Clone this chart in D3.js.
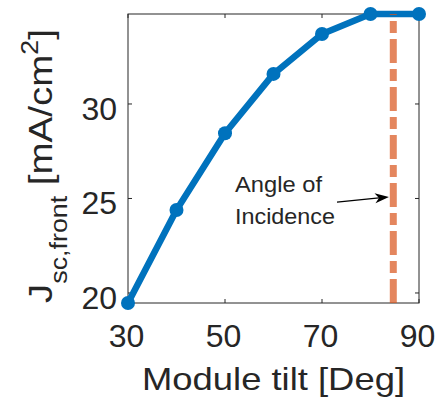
<!DOCTYPE html>
<html>
<head>
<meta charset="utf-8">
<script src="https://cdn.jsdelivr.net/npm/d3@7"></script>
<style>
  body { margin: 0; background: #fff; }
  text { font-family: "Liberation Sans", Arial, sans-serif; fill: #262626; }
</style>
</head>
<body>
<div id="chart"></div>
<script>
// Module tilt (deg) vs front short-circuit current density
var tilt = [30, 40, 50, 60, 70, 80, 90];
var jsc = [19.47, 24.39, 28.45, 31.59, 33.70, 34.76, 34.76];
var xTicks = [30, 50, 70, 90];
var yTicks = [20, 25, 30];
var incidenceAngle = 84.7;
// annotation arrow, [tilt, jsc] of tail and head
var arrowTail = [73.1, 24.81];
var arrowHead = [83.8, 25.08];
var noteLines = ['Angle of', 'Incidence'];

var width = 438, height = 403;
var plot = { left: 128, right: 419, top: 14, bottom: 303 };

var svg = d3.select('#chart').append('svg')
    .attr('width', width)
    .attr('height', height);

var x = d3.scaleLinear().domain([30, 90]).range([plot.left, plot.right]);
var y = d3.scaleLinear().domain(d3.extent(jsc)).range([plot.bottom, plot.top]);

// axes box - MATLAB style, ticks pointing inward
var axisColor = '#262626';
var tickLen = 4;
svg.append('rect')
    .attr('x', plot.left).attr('y', plot.top)
    .attr('width', plot.right - plot.left).attr('height', plot.bottom - plot.top)
    .attr('fill', 'none').attr('stroke', axisColor).attr('stroke-width', 1);

xTicks.forEach(function(t) {
    svg.append('line').attr('x1', x(t)).attr('x2', x(t))
        .attr('y1', plot.bottom).attr('y2', plot.bottom - tickLen)
        .attr('stroke', axisColor);
    svg.append('line').attr('x1', x(t)).attr('x2', x(t))
        .attr('y1', plot.top).attr('y2', plot.top + tickLen)
        .attr('stroke', axisColor);
    svg.append('text')
        .attr('x', x(t) - 1.5).attr('y', 347)
        .attr('text-anchor', 'middle')
        .style('font-size', '32px')
        .text(t);
});

yTicks.forEach(function(t) {
    svg.append('line').attr('x1', plot.left).attr('x2', plot.left + tickLen)
        .attr('y1', y(t)).attr('y2', y(t))
        .attr('stroke', axisColor);
    svg.append('line').attr('x1', plot.right).attr('x2', plot.right - tickLen)
        .attr('y1', y(t)).attr('y2', y(t))
        .attr('stroke', axisColor);
    svg.append('text')
        .attr('x', 117).attr('y', y(t) + 16)
        .attr('text-anchor', 'end')
        .style('font-size', '32px')
        .text(t);
});

// axis titles (glyphs stretched a bit, the original font runs wider than Arial)
svg.append('text')
    .attr('x', 142).attr('y', 390)
    .attr('textLength', 263)
    .attr('lengthAdjust', 'spacingAndGlyphs')
    .style('font-size', '30.5px')
    .text('Module tilt [Deg]');

var ylab = svg.append('text')
    .attr('transform', 'translate(52,303) rotate(-90)')
    .style('font-size', '33px');
ylab.append('tspan').text('J');
ylab.append('tspan').attr('dy', 15).style('font-size', '23px').text('sc,front');
ylab.append('tspan').attr('dy', -15).text(' [mA/cm');
ylab.append('tspan').attr('dy', -14).style('font-size', '23px').text('2');
ylab.append('tspan').attr('dy', 14).text(']');
var ylabLen = ylab.node().getComputedTextLength();
ylab.attr('transform', 'translate(52,303) rotate(-90) scale(' + (274 / ylabLen) + ',1)');

// data line + markers
var line = d3.line()
    .x(function(d, i) { return x(tilt[i]); })
    .y(function(d) { return y(d); });

svg.append('path')
    .datum(jsc)
    .attr('d', line)
    .attr('fill', 'none')
    .attr('stroke', '#0072BD')
    .attr('stroke-width', 6.5)
    .attr('stroke-linejoin', 'round');

svg.selectAll('circle.pt')
    .data(jsc)
    .enter()
    .append('circle')
        .attr('class', 'pt')
        .attr('cx', function(d, i) { return x(tilt[i]); })
        .attr('cy', function(d) { return y(d); })
        .attr('r', 7)
        .attr('fill', '#0072BD');

// angle of incidence marker (dash-dot, drawn from bottom up)
svg.append('line')
    .attr('x1', x(incidenceAngle)).attr('x2', x(incidenceAngle))
    .attr('y1', plot.bottom).attr('y2', plot.top)
    .attr('stroke', 'rgba(217,83,25,0.7)')
    .attr('stroke-width', 7)
    .attr('stroke-dasharray', '24,6,12,6');

// annotation arrow
var tx = x(arrowTail[0]), ty = y(arrowTail[1]);
var hx = x(arrowHead[0]), hy = y(arrowHead[1]);
var ang = Math.atan2(hy - ty, hx - tx);
var headLen = 14, headHalf = 5;
function pt(along, across) {
    return [hx + along * Math.cos(ang) - across * Math.sin(ang),
            hy + along * Math.sin(ang) + across * Math.cos(ang)];
}
svg.append('line')
    .attr('x1', tx).attr('y1', ty)
    .attr('x2', pt(-10, 0)[0]).attr('y2', pt(-10, 0)[1])
    .attr('stroke', '#000').attr('stroke-width', 1.2);
svg.append('path')
    .attr('d', 'M' + [pt(0, 0), pt(-headLen, -headHalf), pt(-headLen + 4, 0), pt(-headLen, headHalf)].join('L') + 'Z')
    .attr('fill', '#000');

svg.append('text')
    .attr('x', 235).attr('y', 192)
    .attr('textLength', 87)
    .attr('lengthAdjust', 'spacingAndGlyphs')
    .style('font-size', '21.5px')
    .text(noteLines[0]);
svg.append('text')
    .attr('x', 235).attr('y', 224)
    .attr('textLength', 100)
    .attr('lengthAdjust', 'spacingAndGlyphs')
    .style('font-size', '21.5px')
    .text(noteLines[1]);
</script>
</body>
</html>
